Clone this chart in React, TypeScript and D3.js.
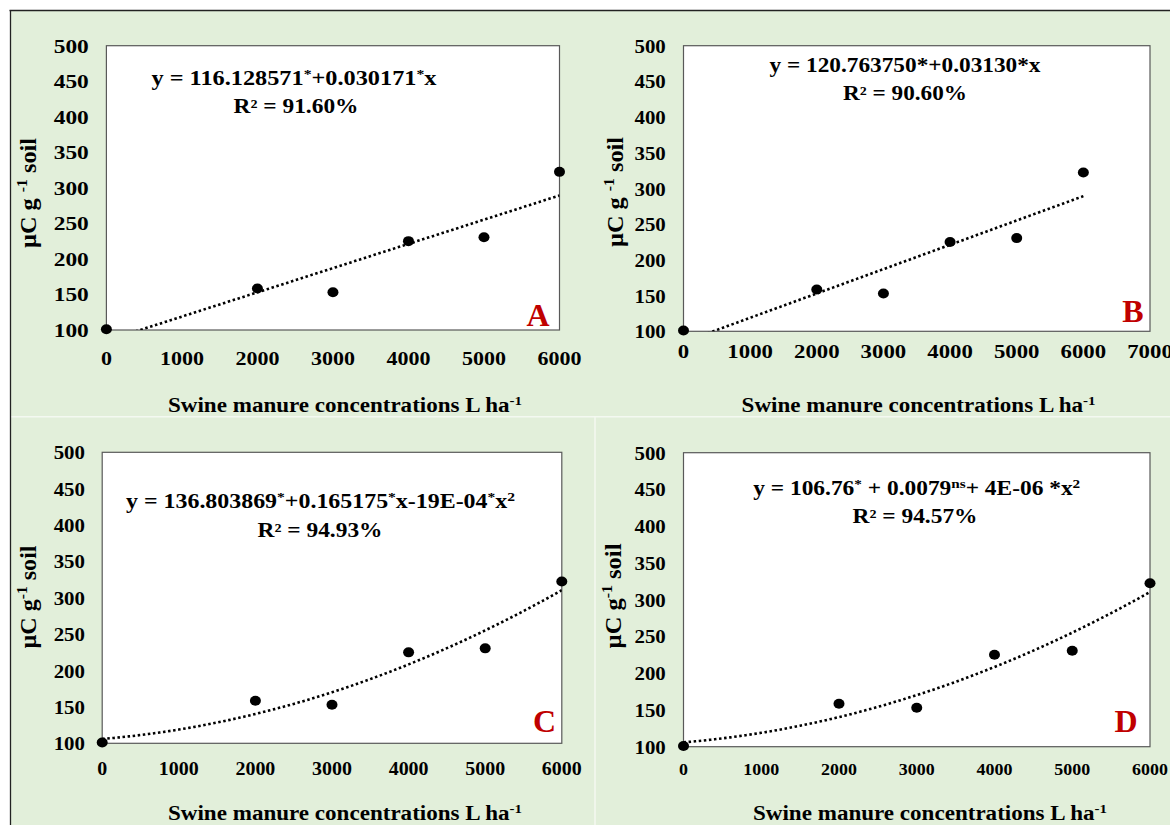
import React from "react";
import * as d3 from "d3";

// ---- data ----
const DOSES = [0, 2000, 3000, 4000, 5000, 6000];
const MICROBIAL_C = [101, 158.5, 153, 225, 230.5, 322.5];
const Y_TICKS = [100, 150, 200, 250, 300, 350, 400, 450, 500];
const X_TICKS_6000 = [0, 1000, 2000, 3000, 4000, 5000, 6000];
const X_TICKS_7000 = [0, 1000, 2000, 3000, 4000, 5000, 6000, 7000];
const PANEL_LETTERS = ["A", "B", "C", "D"];
const R2_LABELS = ["R² = 91.60%", "R² = 90.60%", "R² = 94.93%", "R² = 94.57%"];

const FONT = "Liberation Serif, Times New Roman, DejaVu Serif, serif";
const BG = "#E2EFDA";
const RED = "#C00000";

function linearFit(xs: number[], ys: number[]) {
  const mx = d3.mean(xs)!;
  const my = d3.mean(ys)!;
  let sxy = 0, sxx = 0;
  xs.forEach((x, i) => { sxy += (x - mx) * (ys[i] - my); sxx += (x - mx) ** 2; });
  const m = sxy / sxx;
  const b = my - m * mx;
  return (x: number) => b + m * x;
}

function quadFit(xs: number[], ys: number[]) {
  const u = xs.map((x) => x / 1000);
  const S = (p: number) => d3.sum(u, (v) => v ** p);
  const T = (p: number) => d3.sum(u, (v, i) => v ** p * ys[i]);
  const A = [
    [S(0), S(1), S(2), T(0)],
    [S(1), S(2), S(3), T(1)],
    [S(2), S(3), S(4), T(2)],
  ];
  for (let i = 0; i < 3; i++) {
    for (let k = i + 1; k < 3; k++) {
      const f = A[k][i] / A[i][i];
      for (let j = i; j < 4; j++) A[k][j] -= f * A[i][j];
    }
  }
  const c = [0, 0, 0];
  for (let i = 2; i >= 0; i--) {
    let s = A[i][3];
    for (let j = i + 1; j < 3; j++) s -= A[i][j] * c[j];
    c[i] = s / A[i][i];
  }
  return (x: number) => c[0] + c[1] * (x / 1000) + c[2] * (x / 1000) ** 2;
}

type TP = { x: number; y: number; fs: number; sx?: number; anchor?: string; fill?: string; rotate?: boolean; len?: number; children: React.ReactNode };
function T({ x, y, fs, sx = 1, anchor = "middle", fill = "#000", rotate = false, len, children }: TP) {
  return (
    <g transform={`translate(${x},${y}) scale(${sx},1)${rotate ? " rotate(-90)" : ""}`}>
      <text
        textAnchor={anchor as any}
        style={{ fontFamily: FONT, fontWeight: 700, fontSize: fs }}
        fill={fill}
        {...(len ? { textLength: len, lengthAdjust: "spacingAndGlyphs" } : {})}
      >
        {children}
      </text>
    </g>
  );
}

const Sup = ({ children, fs }: { children: React.ReactNode; fs: number }) => (
  <tspan baselineShift={fs * 0.36} style={{ fontSize: fs * 0.65 }}>{children}</tspan>
);

const EQ_FS = 20;
const equations: React.ReactNode[] = [
  <>y = 116.128571<Sup fs={EQ_FS}>*</Sup>+0.030171<Sup fs={EQ_FS}>*</Sup>x</>,
  <>y = 120.763750*+0.03130*x</>,
  <>y = 136.803869<Sup fs={EQ_FS}>*</Sup>+0.165175<Sup fs={EQ_FS}>*</Sup>x-19E-04<Sup fs={EQ_FS}>*</Sup>x<Sup fs={EQ_FS}>2</Sup></>,
  <>y = 106.76<Sup fs={EQ_FS}>*</Sup> + 0.0079<Sup fs={EQ_FS}>ns</Sup>+ 4E-06 *x<Sup fs={EQ_FS}>2</Sup></>,
];

type Panel = {
  left: number; right: number; top: number; bottom: number; xMax: number; xTicks: number[];
  yTickRight: number; yFs: number; ySx: number; xFs: number; xSx: number; xTickBase: number;
  xTitle: [number, number, number]; yTitle: [number, number, number]; ySpace: boolean;
  eq: [number, number, number]; r2: [number, number, number]; lab: [number, number]; fit: "lin" | "quad";
};

const panels: Panel[] = [
  { left: 106.4, right: 559.5, top: 45.7, bottom: 330, xMax: 6000, xTicks: X_TICKS_6000,
    yTickRight: 88.8, yFs: 19.5, ySx: 1.2, xFs: 19.5, xSx: 1.13, xTickBase: 365,
    xTitle: [345, 412, 354], yTitle: [36, 193, 110], ySpace: true,
    eq: [294, 85, 285], r2: [296, 113, 125], lab: [538, 326], fit: "lin" },
  { left: 683.5, right: 1150, top: 45.7, bottom: 331.3, xMax: 7000, xTicks: X_TICKS_7000,
    yTickRight: 665.8, yFs: 19, ySx: 1.1, xFs: 19.5, xSx: 1.17, xTickBase: 358,
    xTitle: [918.6, 412, 354], yTitle: [623, 192, 110], ySpace: true,
    eq: [905, 72, 271], r2: [905, 100, 124], lab: [1133, 322], fit: "lin" },
  { left: 102.2, right: 561.8, top: 452.3, bottom: 743.3, xMax: 6000, xTicks: X_TICKS_6000,
    yTickRight: 85, yFs: 19, ySx: 1.1, xFs: 19, xSx: 1.05, xTickBase: 775,
    xTitle: [345, 820, 354], yTitle: [36, 597, 103], ySpace: false,
    eq: [320.5, 508, 389], r2: [320, 537, 125], lab: [544.5, 732], fit: "quad" },
  { left: 683.5, right: 1150, top: 452.7, bottom: 746.7, xMax: 6000, xTicks: X_TICKS_6000,
    yTickRight: 665.8, yFs: 19, ySx: 1.1, xFs: 16, xSx: 1.12, xTickBase: 775,
    xTitle: [930, 820, 354], yTitle: [621, 596, 105], ySpace: false,
    eq: [916.7, 495, 327], r2: [915, 523, 125], lab: [1126, 732], fit: "quad" },
];

function PanelView({ p, i }: { p: Panel; i: number }) {
  const x = d3.scaleLinear().domain([0, p.xMax]).range([p.left, p.right]);
  const y = d3.scaleLinear().domain([100, 500]).range([p.bottom, p.top]);
  const f = p.fit === "lin" ? linearFit(DOSES, MICROBIAL_C) : quadFit(DOSES, MICROBIAL_C);
  const xs = d3.range(0, 6000 + 1, 50);
  const line = d3.line<number>().x((d) => x(d)).y((d) => y(f(d)));
  const clipId = `clip${i}`;
  return (
    <g>
      <defs>
        <clipPath id={clipId}>
          <rect x={p.left} y={p.top} width={p.right - p.left} height={p.bottom - p.top} />
        </clipPath>
      </defs>
      <rect x={p.left} y={p.top} width={p.right - p.left} height={p.bottom - p.top} fill="#fff" stroke="#595959" strokeWidth={1.2} />
      {Y_TICKS.map((t) => (
        <T key={t} x={p.yTickRight} y={y(t) + 7} fs={p.yFs} sx={p.ySx} anchor="end">{t}</T>
      ))}
      {p.xTicks.map((t) => (
        <T key={t} x={x(t)} y={p.xTickBase} fs={p.xFs} sx={p.xSx}>{t}</T>
      ))}
      <path d={line(xs)!} fill="none" stroke="#000" strokeWidth={2.6} strokeDasharray="2.5 2.6" clipPath={`url(#${clipId})`} />
      {DOSES.map((d, k) => (
        <ellipse key={d} cx={x(d)} cy={y(MICROBIAL_C[k])} rx={5.5} ry={5} fill="#000" />
      ))}
      <T x={p.eq[0]} y={p.eq[1]} fs={EQ_FS} len={p.eq[2]}>{equations[i]}</T>
      <T x={p.r2[0]} y={p.r2[1]} fs={EQ_FS} len={p.r2[2]}>{R2_LABELS[i]}</T>
      <T x={p.lab[0]} y={p.lab[1]} fs={32} fill={RED}>{PANEL_LETTERS[i]}</T>
      <T x={p.xTitle[0]} y={p.xTitle[1]} fs={20} len={p.xTitle[2]}>
        Swine manure concentrations L ha<Sup fs={20}>-1</Sup>
      </T>
      <T x={p.yTitle[0]} y={p.yTitle[1]} fs={20} sx={1.16} rotate len={p.yTitle[2]}>
        µC g{p.ySpace ? " " : ""}<Sup fs={20}>-1</Sup> soil
      </T>
    </g>
  );
}

export default function App() {
  return (
    <svg width={1170} height={825} style={{ position: "absolute", left: 0, top: 0, background: "#fff" }}>
      <rect x={10} y={10} width={1160} height={815} fill={BG} />
      <line x1={10} y1={416.8} x2={1170} y2={416.8} stroke="#F4F9F1" strokeWidth={1.5} />
      <line x1={595} y1={417} x2={595} y2={825} stroke="#F4F9F1" strokeWidth={1.5} />
      <line x1={9.5} y1={10.5} x2={1170} y2={10.5} stroke="#222" strokeWidth={1.3} />
      <line x1={10.5} y1={10} x2={10.5} y2={825} stroke="#222" strokeWidth={1.3} />
      {panels.map((p, i) => (
        <PanelView key={i} p={p} i={i} />
      ))}
    </svg>
  );
}
